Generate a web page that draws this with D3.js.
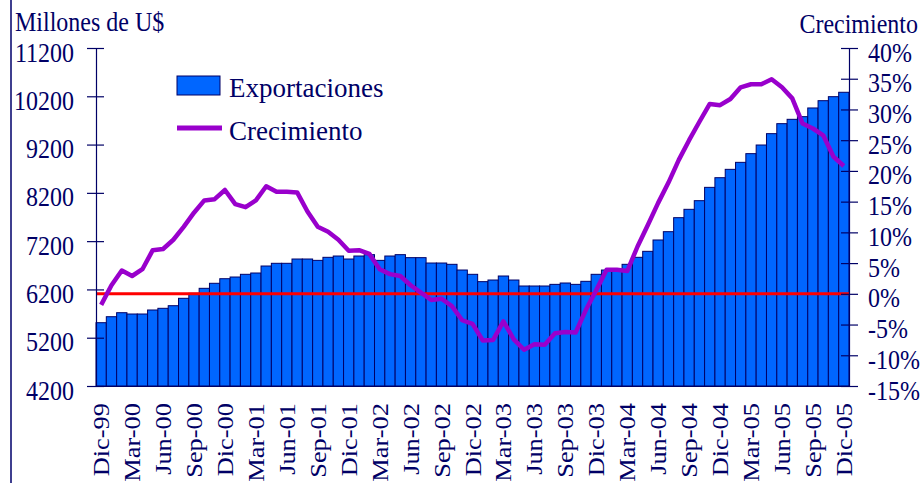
<!DOCTYPE html>
<html lang="es">
<head>
<meta charset="utf-8">
<title>Exportaciones</title>
<script src="https://d3js.org/d3.v7.min.js"></script>
<style>
  body { margin: 0; background: #fff; }
  svg { display: block; }
  text { font-family: "Liberation Serif", "Times New Roman", serif; fill: #000066; }
  .axis text { font-size: 24px; }
  .axis path, .axis line { stroke: #000066; stroke-width: 1.2; }
  .bar { fill: #0066ff; stroke: #000066; stroke-width: 1; }
</style>
</head>
<body>
<script>

// meses, Dic-99 .. Dic-05
var meses = [
  "Dic-99",
  "Ene-00","Feb-00","Mar-00","Abr-00","May-00","Jun-00","Jul-00","Ago-00","Sep-00","Oct-00","Nov-00","Dic-00",
  "Ene-01","Feb-01","Mar-01","Abr-01","May-01","Jun-01","Jul-01","Ago-01","Sep-01","Oct-01","Nov-01","Dic-01",
  "Ene-02","Feb-02","Mar-02","Abr-02","May-02","Jun-02","Jul-02","Ago-02","Sep-02","Oct-02","Nov-02","Dic-02",
  "Ene-03","Feb-03","Mar-03","Abr-03","May-03","Jun-03","Jul-03","Ago-03","Sep-03","Oct-03","Nov-03","Dic-03",
  "Ene-04","Feb-04","Mar-04","Abr-04","May-04","Jun-04","Jul-04","Ago-04","Sep-04","Oct-04","Nov-04","Dic-04",
  "Ene-05","Feb-05","Mar-05","Abr-05","May-05","Jun-05","Jul-05","Ago-05","Sep-05","Oct-05","Nov-05","Dic-05"
];

// millones de US$
var exportaciones = [
  5511,
  5635, 5718, 5691, 5691, 5774, 5809, 5863, 6016, 6120, 6223, 6327, 6422,
  6457, 6513, 6540, 6685, 6741, 6741, 6830, 6830, 6802, 6865, 6892, 6830,
  6892, 6920, 6802, 6892, 6920, 6858, 6858, 6747, 6747, 6720, 6602, 6513,
  6361, 6395, 6478, 6395, 6271, 6271, 6271, 6305, 6333, 6305, 6368, 6513,
  6602, 6616, 6720, 6865, 6989, 7224, 7396, 7686, 7859, 8038, 8314, 8514,
  8687, 8832, 9012, 9191, 9426, 9633, 9723, 9778, 9958, 10109, 10192, 10283
];

// crecimiento, %
var crecimiento = [
  -1.8,
  1.4, 3.8, 2.9, 4.0, 7.1, 7.3, 8.8, 10.9, 13.2, 15.2, 15.4, 16.9,
  14.6, 14.1, 15.2, 17.5, 16.6, 16.6, 16.5, 13.4, 10.9, 10.1, 8.8, 7.0,
  7.1, 6.5, 4.0, 3.2, 2.9, 1.4, 0.2, -1.0, -0.8, -2.0, -4.3, -4.9,
  -7.6, -7.5, -4.5, -7.4, -9.1, -8.2, -8.3, -6.4, -6.2, -6.3, -2.6, 0.6,
  3.9, 3.9, 3.7, 7.7, 11.2, 14.8, 18.1, 21.8, 25.0, 28.0, 30.9, 30.7,
  31.7, 33.6, 34.1, 34.1, 34.9, 33.6, 31.8, 27.7, 26.9, 25.8, 22.3, 20.8
];

var ticksUS = [4200, 5200, 6200, 7200, 8200, 9200, 10200, 11200];
var ticksPct = [-15, -10, -5, 0, 5, 10, 15, 20, 25, 30, 35, 40];
var ticksMes = meses.filter(function (d, i) { return i % 3 === 0; });

var w = 924, h = 483;
var x0 = 96, x1 = 849, yTop = 48, yBase = 386;

var svg = d3.select("body").append("svg")
            .attr("width", w)
            .attr("height", h);

svg.append("rect").attr("width", w).attr("height", h).attr("fill", "#fff");

// borde izquierdo
svg.append("line")
   .attr("x1", 11).attr("x2", 11)
   .attr("y1", 0).attr("y2", h)
   .attr("stroke", "#3f3f8f")
   .attr("stroke-width", 2);

var x = d3.scaleBand().domain(meses).range([x0, x1]).padding(0);
var yL = d3.scaleLinear().domain([4200, 11200]).range([yBase, yTop]);
var yR = d3.scaleLinear().domain([-15, 40]).range([yBase, yTop]);

svg.selectAll(".bar")
   .data(exportaciones)
   .enter()
   .append("rect")
   .attr("class", "bar")
   .attr("x", function (d, i) { return x(meses[i]); })
   .attr("width", x.bandwidth())
   .attr("y", function (d) { return yL(d); })
   .attr("height", function (d) { return yBase - yL(d); });

// linea 0%
svg.append("line")
   .attr("x1", x0).attr("x2", x1)
   .attr("y1", yR(0)).attr("y2", yR(0))
   .attr("stroke", "#ff0000")
   .attr("stroke-width", 3);

var line = d3.line()
             .x(function (d, i) { return x(meses[i]) + x.bandwidth() / 2; })
             .y(function (d) { return yR(d); });

svg.append("path")
   .datum(crecimiento)
   .attr("d", line)
   .attr("fill", "none")
   .attr("stroke", "#9900cc")
   .attr("stroke-width", 4.5)
   .attr("stroke-linejoin", "round");

// ejes
var gL = svg.append("g")
            .attr("class", "axis")
            .attr("transform", "translate(" + x0 + ",0)")
            .call(d3.axisLeft(yL).tickValues(ticksUS).tickSize(0).tickSizeOuter(0)
                    .tickFormat(d3.format("d")));
gL.selectAll(".tick line").attr("x1", -9).attr("x2", 8);
gL.selectAll(".tick text")
  .attr("x", null).attr("dy", null)
  .attr("text-anchor", "end")
  .attr("transform", "translate(-22,13) scale(1,1.1)");

var gR = svg.append("g")
            .attr("class", "axis")
            .attr("transform", "translate(" + x1 + ",0)")
            .call(d3.axisRight(yR).tickValues(ticksPct).tickSize(0).tickSizeOuter(0)
                    .tickFormat(function (d) { return d + "%"; }));
gR.selectAll(".tick line").attr("x1", -8).attr("x2", 9);
gR.selectAll(".tick text")
  .attr("x", null).attr("dy", null)
  .attr("text-anchor", "start")
  .attr("transform", "translate(19,13) scale(1,1.1)");

var gB = svg.append("g")
            .attr("class", "axis")
            .attr("transform", "translate(0," + yBase + ")")
            .call(d3.axisBottom(x).tickValues(ticksMes).tickSize(0).tickSizeOuter(0));
gB.selectAll(".tick text")
  .attr("y", null).attr("dy", null)
  .attr("text-anchor", "end")
  .attr("transform", "translate(8,17) scale(1,1.1) rotate(-90)");

// titulos de eje
svg.append("text")
   .attr("transform", "translate(15,31) scale(1,1.1)")
   .style("font-size", "24px")
   .text("Millones de U$");

svg.append("text")
   .attr("transform", "translate(918,33) scale(1,1.1)")
   .attr("text-anchor", "end")
   .style("font-size", "24px")
   .text("Crecimiento");

// leyenda
var leg = svg.append("g");
leg.append("rect")
   .attr("class", "bar")
   .attr("x", 177).attr("y", 76)
   .attr("width", 43).attr("height", 19);
leg.append("text")
   .attr("x", 229).attr("y", 97)
   .style("font-size", "27px")
   .text("Exportaciones");
leg.append("line")
   .attr("x1", 177).attr("x2", 222)
   .attr("y1", 128).attr("y2", 128)
   .attr("stroke", "#9900cc")
   .attr("stroke-width", 5);
leg.append("text")
   .attr("x", 229).attr("y", 140)
   .style("font-size", "27px")
   .text("Crecimiento");

</script>
</body>
</html>
